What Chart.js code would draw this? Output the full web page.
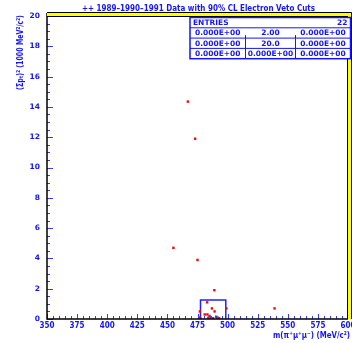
<!DOCTYPE html>
<html>
<head>
<meta charset="utf-8">
<script src="https://cdn.jsdelivr.net/npm/chart.js@4.4.1/dist/chart.umd.min.js"></script>
<style>
  html, body { margin: 0; padding: 0; background: #fff; }
  canvas { display: block; }
</style>
</head>
<body>
<canvas id="massChart" width="352" height="343"></canvas>
<script>
// Event data: pi+ mu+ mu- mass vs (sum pt)^2
const massValues = [467, 473, 455, 475, 489, 483, 477, 487, 489.2, 499, 539, 481, 483.2,
  476.5, 484, 486, 488, 490.5, 491.5, 493, 477.5, 485];
const ptSqValues = [14.35, 11.9, 4.7, 3.9, 1.9, 1.1, 0.5, 0.7, 0.5, 0.7, 0.7, 0.3, 0.3,
  0.1, 0.08, 0.12, 0.05, 0.15, 0.1, 0.05, 0.03, 0.2];

// signal box
const cutBoxMass = [477.5, 477.5, 498.5, 498.5];
const cutBoxPt = [0, 1.25, 1.25, 0];

const xTicks = [350, 375, 400, 425, 450, 475, 500, 525, 550, 575, 600];
const yTicks = [0, 2, 4, 6, 8, 10, 12, 14, 16, 18, 20];

const titleText = "++ 1989\u20131990\u20131991 Data with 90% CL Electron Veto Cuts";
const xTitle = "m(\u03c0\u207a\u03bc\u207a\u03bc\u207b) (MeV/c\u00b2)";
const yTitle = "(\u03a3p\u209c)\u00b2 (1000 MeV\u00b2/c\u00b2)";
const entries = 22;
const statsRows = [
  ["0.000E+00", "2.00", "0.000E+00"],
  ["0.000E+00", "20.0", "0.000E+00"],
  ["0.000E+00", "0.000E+00", "0.000E+00"]
];

const BLUE = "#1414ff";
const BOLD = "bold 7.5px 'DejaVu Sans', sans-serif";
const BIG = "bold 8.5px 'DejaVu Sans', sans-serif";

// draw text squeezed/stretched to a given width
function fitText(ctx, text, x, y, width, font, align) {
  ctx.save();
  ctx.font = font;
  const w = ctx.measureText(text).width;
  const s = width / w;
  ctx.translate(x, y);
  ctx.scale(s, 1);
  ctx.textAlign = align || "left";
  ctx.fillText(text, 0, 0);
  ctx.restore();
}

const framePlugin = {
  id: "frame",
  afterDraw(chart) {
    const { ctx, chartArea: a, scales } = chart;
    const xs = scales.x, ys = scales.y;

    // inner tick marks
    ctx.save();
    ctx.strokeStyle = "#3a3aff";
    ctx.lineWidth = 1;
    for (let v = 350; v <= 600; v += 5) {
      const px = Math.round(xs.getPixelForValue(v)) + 0.5;
      const len = v % 25 === 0 ? 5 : 3;
      ctx.beginPath();
      ctx.moveTo(px, a.bottom);
      ctx.lineTo(px, a.bottom - len);
      ctx.stroke();
    }
    for (let v = 0; v <= 20; v += 0.5) {
      const py = Math.round(ys.getPixelForValue(v)) + 0.5;
      const len = v % 2 === 0 ? 6 : 3;
      ctx.beginPath();
      ctx.moveTo(a.left, py);
      ctx.lineTo(a.left + len, py);
      ctx.stroke();
    }

    // axes
    ctx.strokeStyle = "#000";
    ctx.lineWidth = 1.5;
    ctx.beginPath();
    ctx.moveTo(a.left, a.top - 3);
    ctx.lineTo(a.left, a.bottom);
    ctx.lineTo(a.right, a.bottom);
    ctx.stroke();

    // yellow top / right frame
    ctx.fillStyle = "#ffff00";
    ctx.fillRect(a.left, a.top - 3, 351 - a.left, 3);
    ctx.fillRect(a.right, a.top - 3, 351 - a.right, a.bottom - a.top + 3);
    ctx.lineWidth = 1;
    ctx.beginPath();
    ctx.moveTo(a.left, a.top - 3.5); ctx.lineTo(351.5, a.top - 3.5);
    ctx.moveTo(a.left, a.top + 0.5); ctx.lineTo(a.right, a.top + 0.5);
    ctx.moveTo(a.right - 0.5, a.top); ctx.lineTo(a.right - 0.5, a.bottom);
    ctx.moveTo(351.5, a.top - 3.5); ctx.lineTo(351.5, a.bottom);
    ctx.stroke();

    // titles
    ctx.fillStyle = BLUE;
    ctx.textBaseline = "middle";
    fitText(ctx, titleText, 82, 8.5, 233, BIG);
    fitText(ctx, xTitle, 273, 336, 77, BIG);
    ctx.save();
    ctx.translate(21, 90);
    ctx.rotate(-Math.PI / 2);
    fitText(ctx, yTitle, 0, 0, 75, BIG);
    ctx.restore();

    // stats box
    const bx = 190, bw = 160.5, by = 17.5, rh = 10.3;
    const cols = [190, 245.5, 295.5, 350.5];
    ctx.fillStyle = "#fff";
    ctx.fillRect(bx, by, bw, rh * 4);
    ctx.strokeStyle = BLUE;
    ctx.lineWidth = 1.5;
    ctx.strokeRect(bx, by, bw, rh * 4);
    ctx.lineWidth = 1;
    ctx.beginPath();
    for (let r = 1; r < 4; r++) {
      ctx.moveTo(bx, by + rh * r);
      ctx.lineTo(bx + bw, by + rh * r);
    }
    [cols[1], cols[2]].forEach(cx => {
      ctx.moveTo(cx, by + rh * 2 - 3);
      ctx.lineTo(cx, by + rh * 2);
      ctx.moveTo(cx, by + rh * 2);
      ctx.lineTo(cx, by + rh * 4);
    });
    ctx.stroke();

    ctx.fillStyle = BLUE;
    ctx.font = BOLD;
    ctx.textBaseline = "middle";
    ctx.textAlign = "left";
    ctx.fillText("ENTRIES", bx + 3, by + rh / 2 + 0.5);
    ctx.textAlign = "right";
    ctx.fillText(String(entries), bx + bw - 3, by + rh / 2 + 0.5);
    ctx.textAlign = "center";
    statsRows.forEach((row, r) => {
      row.forEach((txt, c) => {
        const cx = (cols[c] + cols[c + 1]) / 2;
        ctx.fillText(txt, cx, by + rh * (r + 1) + rh / 2 + 0.5);
      });
    });
    ctx.restore();
  }
};

new Chart(document.getElementById("massChart"), {
  type: "scatter",
  data: {
    datasets: [
      {
        data: massValues.map((m, i) => ({ x: m, y: ptSqValues[i] })),
        backgroundColor: "#ff0000",
        borderWidth: 0,
        pointStyle: "rect",
        pointRadius: 1.7
      },
      {
        data: cutBoxMass.map((m, i) => ({ x: m, y: cutBoxPt[i] })),
        showLine: true,
        borderColor: "#2020ff",
        borderWidth: 1.5,
        pointRadius: 0,
        fill: false
      }
    ]
  },
  options: {
    responsive: false,
    animation: false,
    devicePixelRatio: 1,
    layout: { padding: { top: 16, right: 3, left: 0, bottom: 0 } },
    plugins: { legend: { display: false }, tooltip: { enabled: false } },
    scales: {
      x: {
        type: "linear",
        min: 350,
        max: 600,
        afterBuildTicks: s => { s.ticks = xTicks.map(v => ({ value: v })); },
        afterFit: s => { s.height = 24; s.paddingLeft = 0; s.paddingRight = 0; },
        ticks: {
          color: BLUE,
          padding: 2,
          maxRotation: 0,
          autoSkip: false,
          font: { family: "'Liberation Sans Narrow', 'DejaVu Sans Condensed', sans-serif", weight: "bold", size: 8 }
        },
        grid: { display: false, drawTicks: false },
        border: { display: false }
      },
      y: {
        min: 0,
        max: 20,
        afterBuildTicks: s => { s.ticks = yTicks.map(v => ({ value: v })); },
        afterFit: s => { s.width = 47; s.paddingTop = 0; s.paddingBottom = 0; },
        ticks: {
          color: BLUE,
          padding: 7,
          font: { family: "'DejaVu Sans', sans-serif", weight: "bold", size: 7.5 }
        },
        grid: { display: false, drawTicks: false },
        border: { display: false }
      }
    }
  },
  plugins: [framePlugin]
});
</script>
</body>
</html>
